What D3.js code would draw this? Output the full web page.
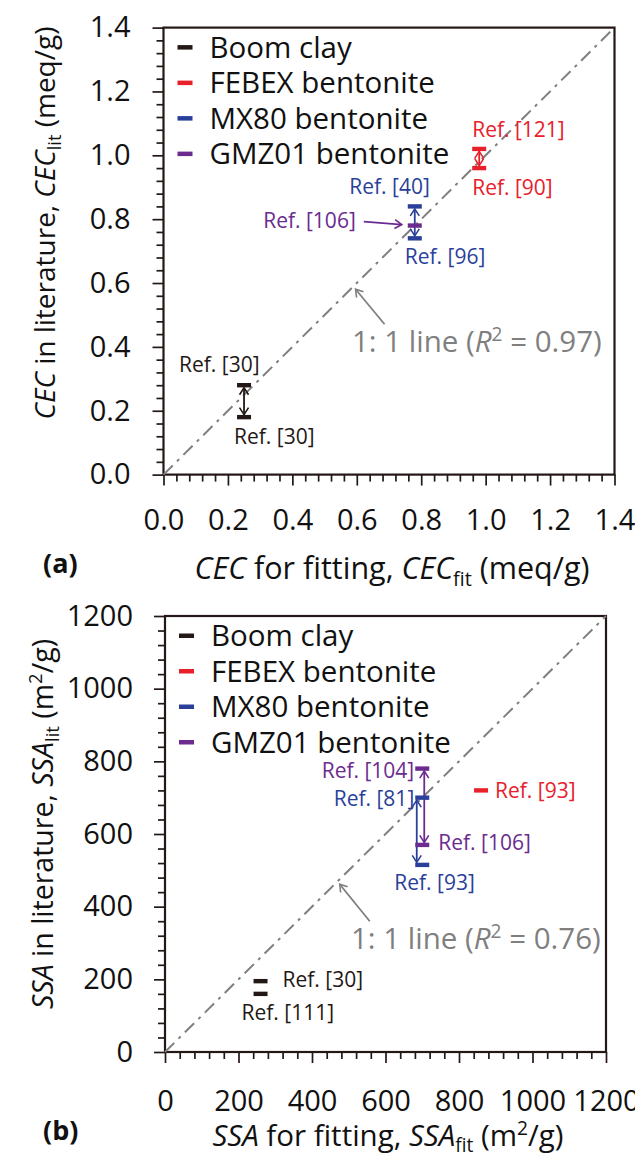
<!DOCTYPE html>
<html lang="en">
<head>
<meta charset="UTF-8">
<title>CEC / SSA fitting vs literature</title>
<script src="https://cdn.jsdelivr.net/npm/d3@7"></script>
<style>
  body { margin: 0; background: #fff; }
  text { font-family: "Open Sans", "Noto Sans", sans-serif; }
</style>
</head>
<body>
<svg id="chart" width="635" height="1155"></svg>
<script>
// ---- data ----
const materials = ['Boom clay', 'FEBEX bentonite', 'MX80 bentonite', 'GMZ01 bentonite'];
const colors = ['#231815', '#e8202a', '#2a3f9a', '#6b2b8f'];

// (a) CEC, meq/g
const cecFit = [0.25, 0.98, 0.78, 0.78];
const cecLit = [[0.28, 0.18], [1.02, 0.96], [0.84, 0.74], [0.78]];
const cecRefs = [['Ref. [30]', 'Ref. [30]'], ['Ref. [121]', 'Ref. [90]'], ['Ref. [40]', 'Ref. [96]'], ['Ref. [106]']];
const cecTicks = [0, 0.2, 0.4, 0.6, 0.8, 1.0, 1.2, 1.4];
const cecR2 = '0.97';

// (b) SSA, m2/g
const ssaFit = [260, 860, 700, 700];
const ssaLit = [[195, 160], [720], [700, 515], [780, 570]];
const ssaRefs = [['Ref. [30]', 'Ref. [111]'], ['Ref. [93]'], ['Ref. [81]', 'Ref. [93]'], ['Ref. [104]', 'Ref. [106]']];
const ssaTicks = [0, 200, 400, 600, 800, 1000, 1200];
const ssaR2 = '0.76';

const svg = d3.select('#chart');
const ink = '#231815';
const grey = '#7f7f7f';

// arrow heads, one per colour
const defs = svg.append('defs');
[...colors, grey].forEach((c, i) => {
  defs.append('marker').attr('id', 'ah' + i)
    .attr('viewBox', '-8 -6 10 12').attr('refX', 0).attr('refY', 0)
    .attr('markerWidth', 10).attr('markerHeight', 12)
    .attr('markerUnits', 'userSpaceOnUse').attr('orient', 'auto-start-reverse')
    .append('path').attr('d', 'M-7,-4.5L0,0L-7,4.5')
    .attr('fill', 'none').attr('stroke', c).attr('stroke-width', 1.6);
});

function rich(sel, parts, size) {
  parts.forEach(p => {
    const t = sel.append('tspan').text(p.t);
    if (p.it) t.attr('font-style', 'italic');
    if (p.sub) t.attr('font-size', size * 0.65).attr('dy', size * 0.22);
    if (p.sup) t.attr('font-size', size * 0.65).attr('dy', -size * 0.38);
    if (p.back) t.attr('dy', p.back * size);
  });
}

function panel(cfg) {
  const x = d3.scaleLinear().domain([0, cfg.max]).range([cfg.left, cfg.left + cfg.w]);
  const y = d3.scaleLinear().domain([0, cfg.max]).range([cfg.top + cfg.h, cfg.top]);
  const g = svg.append('g');
  const minors = d3.range(0, cfg.max + cfg.minor / 2, cfg.minor)
    .filter(v => !cfg.ticks.some(t => Math.abs(t - v) < cfg.minor / 10));

  // axes
  const axes = [
    g.append('g').attr('transform', `translate(0,${cfg.top + cfg.h})`)
      .call(d3.axisBottom(x).tickValues(minors).tickSize(7).tickFormat('')),
    g.append('g').attr('transform', `translate(0,${cfg.top + cfg.h})`)
      .call(d3.axisBottom(x).tickValues(cfg.ticks).tickSize(11).tickPadding(cfg.xPad).tickFormat(cfg.fmt)),
    g.append('g').attr('transform', `translate(${cfg.left},0)`)
      .call(d3.axisLeft(y).tickValues(minors).tickSize(7).tickFormat('')),
    g.append('g').attr('transform', `translate(${cfg.left},0)`)
      .call(d3.axisLeft(y).tickValues(cfg.ticks).tickSize(11).tickPadding(cfg.yPad).tickFormat(cfg.fmt))
  ];
  axes.forEach(a => {
    a.select('.domain').remove();
    a.selectAll('line').attr('stroke', ink).attr('stroke-width', 1.7);
    a.selectAll('text').attr('font-size', 29).attr('fill', '#111').attr('font-family', '"Open Sans", sans-serif');
  });

  // frame
  g.append('rect').attr('x', cfg.left).attr('y', cfg.top).attr('width', cfg.w).attr('height', cfg.h)
    .attr('fill', 'none').attr('stroke', ink).attr('stroke-width', 2.2);

  // 1:1 line
  g.append('line').attr('x1', x(0)).attr('y1', y(0)).attr('x2', x(cfg.max)).attr('y2', y(cfg.max))
    .attr('stroke', grey).attr('stroke-width', 2).attr('stroke-dasharray', '13,6,3,6');

  // legend
  materials.forEach((m, i) => {
    const ly = cfg.top + 19.5 + i * 35.5;
    g.append('rect').attr('x', cfg.left + 14).attr('y', ly - 2).attr('width', 15).attr('height', 4.5).attr('fill', colors[i]);
    g.append('text').attr('x', cfg.left + 46).attr('y', ly).attr('dy', '0.36em')
      .attr('font-size', 29.5).attr('fill', '#111').text(m);
  });

  // double-headed arrows between literature values
  cfg.arrows.forEach(a => {
    const vals = cfg.lit[a.i];
    const px = x(cfg.fit[a.i]) + (a.dx || 0);
    g.append('line').attr('x1', px).attr('x2', px)
      .attr('y1', y(vals[0]) + 2.5).attr('y2', y(vals[1]) - 2.5)
      .attr('stroke', colors[a.i]).attr('stroke-width', 1.8)
      .attr('marker-start', `url(#ah${a.i})`).attr('marker-end', `url(#ah${a.i})`);
  });

  // caps (points) and reference labels
  cfg.lit.forEach((vals, i) => {
    vals.forEach((v, j) => {
      const px = x(cfg.fit[i]), py = y(v);
      g.append('rect').attr('x', px - 7).attr('y', py - 2.2).attr('width', 14).attr('height', 4.4).attr('fill', colors[i]);
      const lp = cfg.labelPos[i][j];
      g.append('text').attr('x', px + lp[0]).attr('y', py + lp[1]).attr('dy', '0.36em')
        .attr('text-anchor', lp[2] || 'start').attr('font-size', 21).attr('fill', colors[i])
        .text(cfg.refs[i][j]);
    });
  });

  // pointer arrows
  if (cfg.pointer) {
    const p = cfg.pointer;
    const px = x(cfg.fit[p.i]), py = y(cfg.lit[p.i][0]);
    g.append('line').attr('x1', px + p.from[0]).attr('y1', py + p.from[1])
      .attr('x2', px + p.to[0]).attr('y2', py + p.to[1])
      .attr('stroke', colors[p.i]).attr('stroke-width', 1.8).attr('marker-end', `url(#ah${p.i})`);
  }

  // 1:1 annotation
  const tx = x(cfg.oneOne), ty = y(cfg.oneOne);
  g.append('line').attr('x1', tx + cfg.oneOneTail[0]).attr('y1', ty + cfg.oneOneTail[1])
    .attr('x2', tx + 2).attr('y2', ty + 3)
    .attr('stroke', grey).attr('stroke-width', 1.8).attr('marker-end', `url(#ah${colors.length})`);
  const ann = g.append('text').attr('x', cfg.annX).attr('y', cfg.annY).attr('dy', '0.36em')
    .attr('font-size', 29.5).attr('fill', grey);
  rich(ann, [{t: '1: 1 line ('}, {t: 'R', it: true}, {t: '2', sup: true}, {t: ' = ' + cfg.r2 + ')', back: 0.38}], 29.5);

  // axis titles
  const xt = svg.append('text').attr('x', cfg.xTitle[0]).attr('y', cfg.xTitle[1])
    .attr('text-anchor', 'middle').attr('font-size', cfg.xTitleSize).attr('fill', '#111');
  rich(xt, cfg.xTitleParts, cfg.xTitleSize);
  const yt = svg.append('text').attr('transform', `translate(${cfg.yTitle[0]},${cfg.yTitle[1]}) rotate(-90)`)
    .attr('text-anchor', 'middle').attr('font-size', cfg.yTitleSize).attr('fill', '#111');
  rich(yt, cfg.yTitleParts, cfg.yTitleSize);
  svg.append('text').attr('x', 43).attr('y', cfg.tag[1]).attr('font-size', 27).attr('font-weight', 'bold')
    .attr('fill', '#111').text(cfg.tag[0]);
}

panel({
  left: 163.5, top: 27.6, w: 451, h: 447, max: 1.4, minor: 0.04,
  ticks: cecTicks, fmt: d3.format('.1f'), xPad: 24, yPad: 22,
  fit: cecFit, lit: cecLit, refs: cecRefs, r2: cecR2,
  arrows: [{i: 0}, {i: 1}, {i: 2}],
  labelPos: [[[-65, -21], [-10, 19]], [[-7, -19], [-7, 19]], [[15, -20, 'end'], [-10, 18]], [[-59, -5, 'end']]],
  pointer: {i: 3, from: [-51, -4], to: [-13, -1]},
  oneOne: 0.59, oneOneTail: [31, 38], annX: 352, annY: 341.6,
  xTitle: [392, 579], yTitle: [55, 223], tag: ['(a)', 573],
  xTitleSize: 30.5, yTitleSize: 28,
  xTitleParts: [{t: 'CEC', it: true}, {t: ' for fitting, '}, {t: 'CEC', it: true}, {t: 'fit', sub: true}, {t: ' (meq/g)', back: -0.22}],
  yTitleParts: [{t: 'CEC', it: true}, {t: ' in literature, '}, {t: 'CEC', it: true}, {t: 'lit', sub: true}, {t: ' (meq/g)', back: -0.22}]
});

panel({
  left: 165, top: 616, w: 441, h: 436, max: 1200, minor: 40,
  ticks: ssaTicks, fmt: d3.format('d'), xPad: 27, yPad: 21,
  fit: ssaFit, lit: ssaLit, refs: ssaRefs, r2: ssaR2,
  arrows: [{i: 2, dx: -5.5}, {i: 3, dx: 2}],
  labelPos: [[[22, -2], [-19, 19]], [[14, 0]], [[-8, 1, 'end'], [-28, 18]], [[-8, 2, 'end'], [16, -2]]],
  pointer: null,
  oneOne: 470, oneOneTail: [32, 40], annX: 351, annY: 938.5,
  xTitle: [388, 1146], yTitle: [53, 824], tag: ['(b)', 1140],
  xTitleSize: 29.5, yTitleSize: 28.5,
  xTitleParts: [{t: 'SSA', it: true}, {t: ' for fitting, '}, {t: 'SSA', it: true}, {t: 'fit', sub: true}, {t: ' (m', back: -0.22}, {t: '2', sup: true}, {t: '/g)', back: 0.38}],
  yTitleParts: [{t: 'SSA', it: true}, {t: ' in literature, '}, {t: 'SSA', it: true}, {t: 'lit', sub: true}, {t: ' (m', back: -0.22}, {t: '2', sup: true}, {t: '/g)', back: 0.38}]
});
</script>
</body>
</html>
